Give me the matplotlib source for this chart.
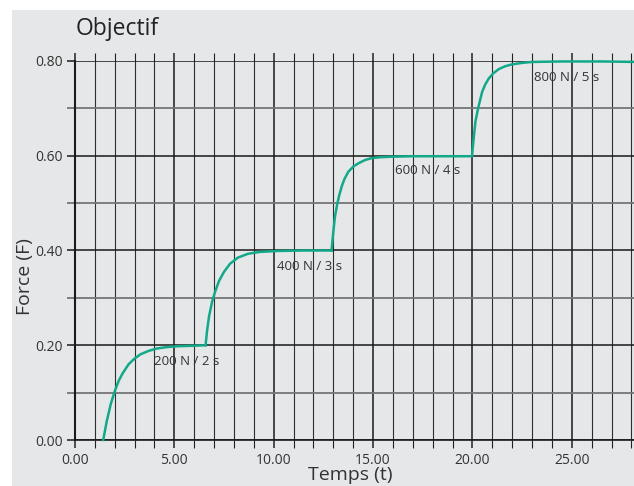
import matplotlib
matplotlib.use("Agg")
import matplotlib.pyplot as plt
from matplotlib.patches import Rectangle
from matplotlib.ticker import MultipleLocator, FormatStrFormatter

plt.rcParams['font.family'] = ['Open Sans', 'DejaVu Sans']

# values (time, force)
t_step1 = [1.42, 1.6, 1.8, 2.0, 2.2, 2.4, 2.7, 3.0, 3.3, 3.7, 4.1, 4.6, 5.2, 6.0, 6.57]
f_step1 = [0.000, 0.040, 0.076, 0.103, 0.125, 0.141, 0.160, 0.172, 0.181, 0.188, 0.193, 0.196, 0.198, 0.199, 0.200]

t_step2 = [6.57, 6.65, 6.75, 6.9, 7.05, 7.25, 7.5, 7.8, 8.2, 8.7, 9.3, 10.2, 11.5, 12.91]
f_step2 = [0.200, 0.232, 0.262, 0.292, 0.313, 0.336, 0.355, 0.372, 0.385, 0.393, 0.397, 0.399, 0.400, 0.400]

t_step3 = [12.91, 13.0, 13.08, 13.2, 13.3, 13.42, 13.55, 13.75, 14.0, 14.26, 14.6, 14.93, 15.4, 15.94, 17.0, 19.98]
f_step3 = [0.400, 0.440, 0.471, 0.499, 0.517, 0.535, 0.550, 0.566, 0.577, 0.584, 0.591, 0.595, 0.597, 0.598, 0.599, 0.599]

t_step4 = [19.98, 20.07, 20.15, 20.29, 20.4, 20.49, 20.65, 20.82, 21.05, 21.33, 21.65, 22.0, 22.5, 23.0, 24.5, 26.5, 28.3]
f_step4 = [0.600, 0.640, 0.672, 0.701, 0.720, 0.735, 0.751, 0.763, 0.774, 0.783, 0.789, 0.793, 0.796, 0.798, 0.799, 0.799, 0.798]

labels = ["200 N / 2 s", "400 N / 3 s", "600 N / 4 s", "800 N / 5 s"]
label_t = [3.98, 10.15, 16.1, 23.12]
label_f = [0.165, 0.367, 0.568, 0.765]

W, H = 634, 486
bg = '#e6e7e9'
txt = '#333333'
teal = '#12a98a'

fig = plt.figure(figsize=(W / 100, H / 100), dpi=100)
fig.patch.set_facecolor('white')
fig.add_artist(Rectangle((12 / W, 0), 1, 1 - 10 / H, transform=fig.transFigure,
                         facecolor=bg, edgecolor='none', zorder=0))

ax = fig.add_axes([75 / W, (H - 440) / H, (W - 75) / W, (440 - 61) / H])
ax.set_facecolor(bg)
ax.set_xlim(0, 28.13)
ax.set_ylim(0, 0.8)

ax.xaxis.set_major_locator(MultipleLocator(5))
ax.xaxis.set_minor_locator(MultipleLocator(1))
ax.yaxis.set_major_locator(MultipleLocator(0.2))
ax.yaxis.set_minor_locator(MultipleLocator(0.1))
ax.xaxis.set_major_formatter(FormatStrFormatter('%.2f'))
ax.yaxis.set_major_formatter(FormatStrFormatter('%.2f'))

ax.grid(which='major', axis='x', color='#1a1a1a', lw=1.1)
ax.grid(which='minor', axis='x', color='#2e2e2e', lw=0.8)
ax.grid(which='major', axis='y', color='#1a1a1a', lw=1.1)
ax.grid(which='minor', axis='y', color='#767676', lw=1.3)
ax.set_axisbelow(True)

ax.tick_params(axis='x', which='both', top=True, bottom=True, direction='out',
               length=6, color='#222222', labelsize=10, labelcolor=txt, pad=3)
ax.tick_params(axis='x', which='major', width=1.1)
ax.tick_params(axis='x', which='minor', width=0.8)
ax.tick_params(axis='y', which='major', direction='out', length=6, width=1.1,
               color='#1a1a1a', labelsize=10, labelcolor=txt, pad=3)
ax.tick_params(axis='y', which='minor', direction='out', length=6, width=1.3,
               color='#767676')

for s in ['top', 'right']:
    ax.spines[s].set_visible(False)
ax.spines['left'].set_color('#1a1a1a')
ax.spines['left'].set_linewidth(1.5)
ax.spines['bottom'].set_color('#1a1a1a')
ax.spines['bottom'].set_linewidth(1.2)

for ts, fs in [(t_step1, f_step1), (t_step2, f_step2), (t_step3, f_step3), (t_step4, f_step4)]:
    ax.plot(ts, fs, color=teal, lw=1.8, solid_joinstyle='round', zorder=3, clip_on=False)

for lab, lt, lf in zip(labels, label_t, label_f):
    ax.text(lt, lf, lab, fontsize=9.5, color=txt, ha='left', va='center', zorder=4)

fig.text(76 / W, 1 - 35 / H, 'Objectif', fontsize=16.5, color='#222222', va='baseline', ha='left')
fig.text(25 / W, 1 - 277 / H, 'Force (F)', fontsize=14, color=txt, rotation=90,
         ha='center', va='center')
fig.text(350 / W, 6 / H, 'Temps (t)', fontsize=14, color=txt, ha='center', va='baseline')

fig.savefig('out.png', dpi=100, facecolor=fig.get_facecolor())
